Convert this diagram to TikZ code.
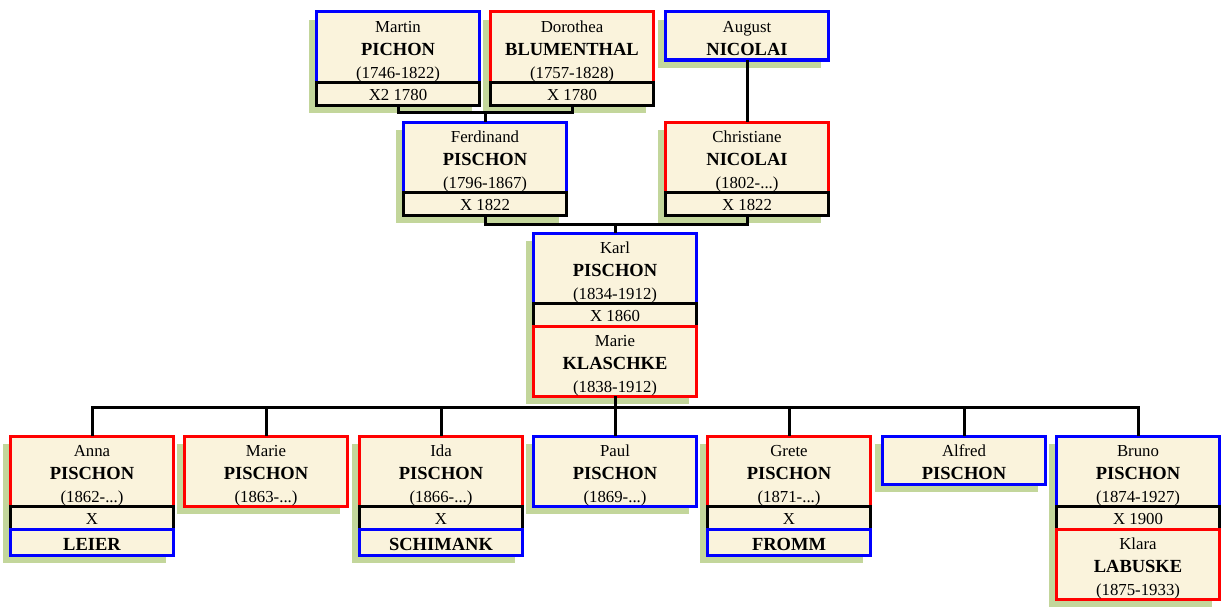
\documentclass[tikz,border=0pt]{standalone}
\usepackage{fontspec}
\setmainfont{Liberation Serif}
\usepackage{tikz}
\usetikzlibrary{calc,backgrounds}
\definecolor{cream}{RGB}{250,243,220}
\definecolor{leaf}{RGB}{195,214,155}
\newcommand{\famname}[1]{{\fontsize{18.5}{23}\selectfont\bfseries #1}}
\newcommand{\gapht}{20.5pt}
\newcommand{\topgap}{\rule{0pt}{\gapht}}
\tikzset{
  box/.style={fill=cream, line width=3pt, minimum width=163pt, inner sep=0pt, outer sep=0pt, anchor=north, align=center, font=\fontsize{16.8}{23}\selectfont},
  full/.style={box, draw=#1, minimum height=70pt, execute at begin node={\def\gapht{20.5pt}}},
  short/.style={box, draw=#1, minimum height=48pt, execute at begin node={\def\gapht{16.5pt}}},
  single/.style={box, draw=#1, minimum height=26pt, execute at begin node={\def\gapht{16.5pt}}},
  mbox/.style={box, draw=black, minimum height=23pt, execute at begin node={\def\gapht{14.4pt}}},
  link/.style={line width=3pt},
}

\begin{document}
\begin{tikzpicture}[x=1pt,y=-1pt]
\useasboundingbox (0,0) rectangle (1230,610);
% grandparents
\node[full=blue] (martin) at (398,12) {\topgap Martin\\\famname{PICHON}\\(1746-1822)};
\node[mbox] (mmarr) at (martin.south) {\topgap X2 1780};
\node[full=red] (dorothea) at (572,12) {\topgap Dorothea\\\famname{BLUMENTHAL}\\(1757-1828)};
\node[mbox] (dmarr) at (dorothea.south) {\topgap X 1780};
\node[short=blue] (august) at (747,12) {\topgap August\\\famname{NICOLAI}};
% parents
\node[full=blue] (ferdinand) at (485,122) {\topgap Ferdinand\\\famname{PISCHON}\\(1796-1867)};
\node[mbox] (fmarr) at (ferdinand.south) {\topgap X 1822};
\node[full=red] (christiane) at (747,122) {\topgap Christiane\\\famname{NICOLAI}\\(1802-...)};
\node[mbox] (cmarr) at (christiane.south) {\topgap X 1822};
% Karl and Marie
\node[full=blue] (karl) at (615,233) {\topgap Karl\\\famname{PISCHON}\\(1834-1912)};
\node[mbox] (kmarr) at (karl.south) {\topgap X 1860};
\node[full=red] (marie) at (kmarr.south) {\topgap Marie\\\famname{KLASCHKE}\\(1838-1912)};
% children
\node[full=red] (anna) at (92,436) {\topgap Anna\\\famname{PISCHON}\\(1862-...)};
\node[mbox] (amarr) at (anna.south) {\topgap X};
\node[single=blue] (leier) at (amarr.south) {\topgap\famname{LEIER}};
\node[full=red] (mariep) at (266,436) {\topgap Marie\\\famname{PISCHON}\\(1863-...)};
\node[full=red] (ida) at (441,436) {\topgap Ida\\\famname{PISCHON}\\(1866-...)};
\node[mbox] (imarr) at (ida.south) {\topgap X};
\node[single=blue] (schimank) at (imarr.south) {\topgap\famname{SCHIMANK}};
\node[full=blue] (paul) at (615,436) {\topgap Paul\\\famname{PISCHON}\\(1869-...)};
\node[full=red] (grete) at (789,436) {\topgap Grete\\\famname{PISCHON}\\(1871-...)};
\node[mbox] (gmarr) at (grete.south) {\topgap X};
\node[single=blue] (fromm) at (gmarr.south) {\topgap\famname{FROMM}};
\node[short=blue] (alfred) at (964,436) {\topgap Alfred\\\famname{PISCHON}};
\node[full=blue] (bruno) at (1138,436) {\topgap Bruno\\\famname{PISCHON}\\(1874-1927)};
\node[mbox] (bmarr) at (bruno.south) {\topgap X 1900};
\node[full=red] (klara) at (bmarr.south) {\topgap Klara\\\famname{LABUSKE}\\(1875-1933)};
% shadows
\begin{scope}[on background layer]
\foreach \a/\b in {martin/mmarr, dorothea/dmarr, august/august, ferdinand/fmarr, christiane/cmarr, karl/marie, anna/leier, mariep/mariep, ida/schimank, paul/paul, grete/fromm, alfred/alfred, bruno/klara}
  \fill[leaf] ($(\a.north west)+(-8,8)$) rectangle ($(\b.south east)+(-8,8)$);
\end{scope}
% connectors
\coordinate (j1) at ($(ferdinand.north)+(0,-10)$);
\coordinate (j2) at ($(karl.north)+(0,-9)$);
\coordinate (j3) at ($(marie.south)+(0,11)$);
\draw[link] (mmarr.south) |- (j1) -| (dmarr.south);
\draw[link] (j1) -- (ferdinand.north);
\draw[link] (august.south) -- (christiane.north);
\draw[link] (fmarr.south) |- (j2) -| (cmarr.south);
\draw[link] (j2) -- (karl.north);
\draw[link] (marie.south) -- (j3);
\foreach \c in {anna,mariep,ida,paul,grete,alfred,bruno} \draw[link] (j3) -| (\c.north);
\end{tikzpicture}
\end{document}
